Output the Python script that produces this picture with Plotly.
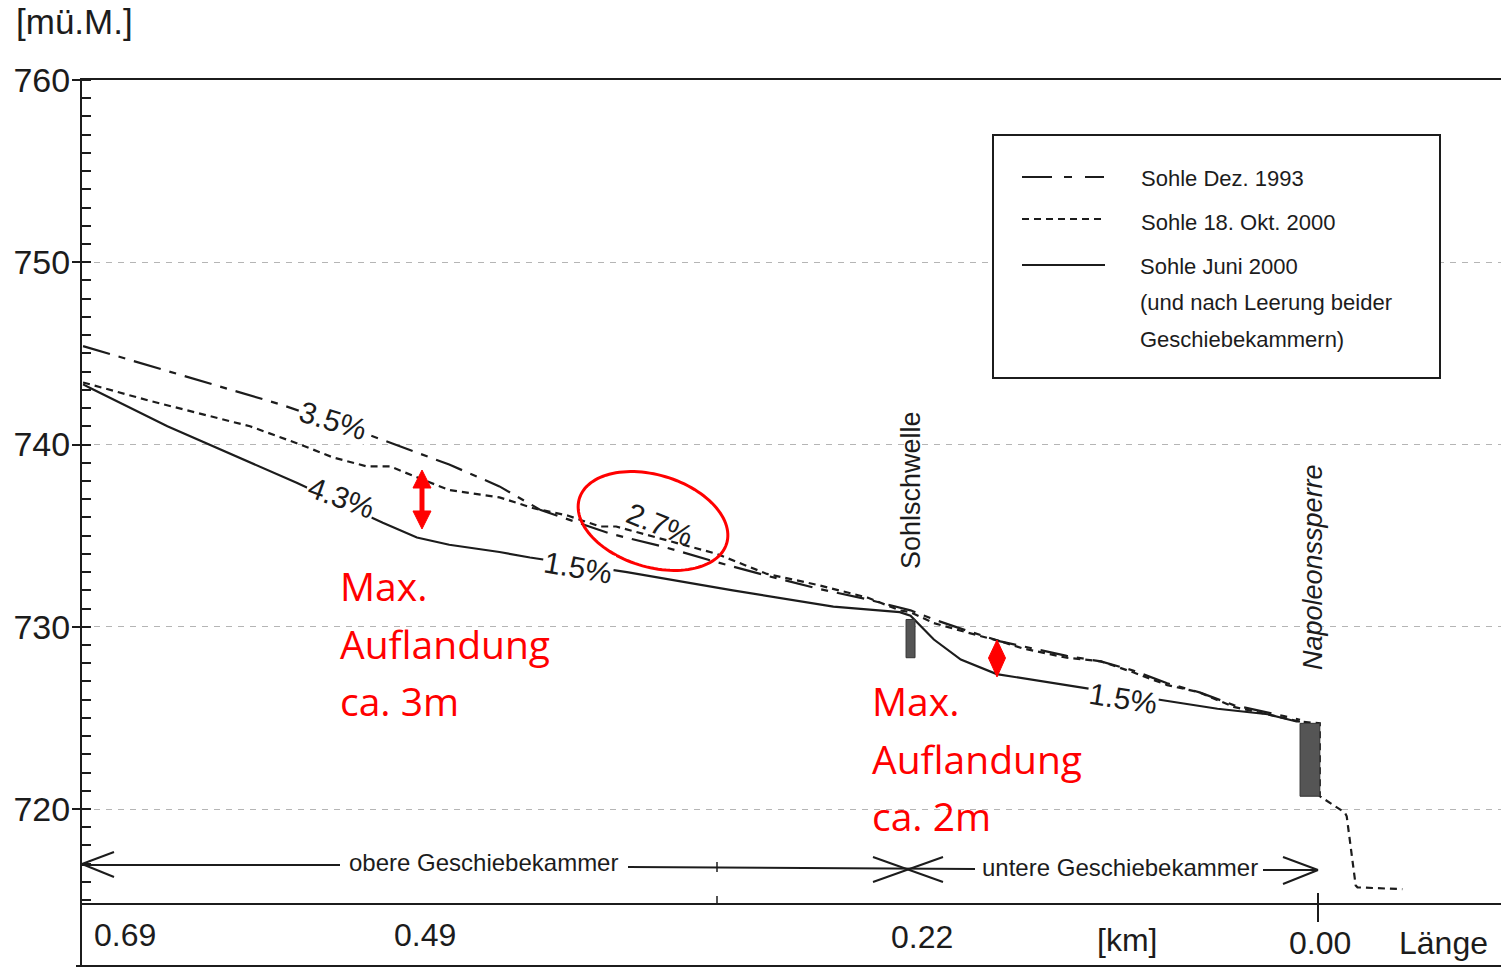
import numpy as np
import plotly.graph_objects as go

# ---- Längenprofil: Stationierung [km] und Sohlhöhen [m ü.M.] ----
dez1993_km = [0.688, 0.578, 0.528, 0.484, 0.456, 0.433, 0.394, 0.365, 0.337, 0.307,
              0.279, 0.251, 0.227, 0.214, 0.196, 0.177, 0.140, 0.121, 0.103, 0.084,
              0.066, 0.047, 0.019, 0.010]
dez1993_z = [745.4, 742.2, 740.5, 738.9, 737.7, 736.4, 735.1, 734.4, 733.6, 732.8,
             732.1, 731.5, 730.9, 730.4, 729.8, 729.2, 728.4, 728.1, 727.6, 726.9,
             726.4, 725.7, 725.1, 724.9]

okt2000_km = [0.688, 0.684, 0.651, 0.623, 0.595, 0.567, 0.549, 0.530, 0.517, 0.502,
              0.484, 0.456, 0.437, 0.418, 0.400, 0.391, 0.335, 0.307, 0.279, 0.251,
              0.233, 0.227, 0.214, 0.196, 0.177, 0.164, 0.140, 0.121, 0.103, 0.084,
              0.066, 0.047, 0.019, 0.010, -0.001, -0.001, -0.015, -0.016, -0.021,
              -0.022, -0.047]
okt2000_z = [743.4, 743.3, 742.4, 741.7, 741.0, 740.0, 739.3, 738.8, 738.8, 738.2,
             737.5, 737.1, 736.5, 736.1, 735.5, 735.5, 734.0, 732.9, 732.3, 731.6,
             730.9, 730.8, 730.2, 729.7, 729.2, 728.8, 728.3, 728.1, 727.5, 726.8,
             726.4, 725.6, 725.0, 724.8, 724.7, 720.7, 719.8, 719.6, 715.8,
             715.7, 715.6]

juni2000_km = [0.688, 0.684, 0.641, 0.569, 0.521, 0.502, 0.484, 0.456, 0.439, 0.385,
               0.326, 0.270, 0.233, 0.227, 0.214, 0.199, 0.179, 0.159, 0.134, 0.082,
               0.056, 0.028, 0.012, 0.010]
juni2000_z = [743.3, 743.1, 741.0, 737.9, 735.7, 734.9, 734.5, 734.1, 733.8, 733.0,
              732.0, 731.1, 730.8, 730.6, 729.3, 728.2, 727.4, 727.1, 726.7, 725.9,
              725.5, 725.2, 724.8, 724.8]

# Bauwerke (Sohlschwelle, Napoleonssperre)
bauwerk_km_links = [0.2295, 0.0100]
bauwerk_km_rechts = [0.2245, -0.0010]
bauwerk_oben = [730.4, 724.7]
bauwerk_unten = [728.3, 720.7]

y_ticks = [720, 730, 740, 750, 760]
x_tick_labels = ["0.69", "0.49", "0.22", "0.00"]
x_tick_vals = [0.69, 0.49, 0.22, 0.00]

# ---- Seitenaufbau ----
W, H = 1501, 970
ML, MR, MT, MB = 82, 0, 80, 67
PW, PH = W - ML - MR, H - MT - MB


def px(x):
    return (x - ML) / PW


def py(y):
    return (H - MB - y) / PH


INK = "#1c1c1c"
RED = "#ff0000"
FONT = "Liberation Sans, Arial, sans-serif"

fig = go.Figure()

fig.add_trace(go.Scatter(x=dez1993_km, y=dez1993_z, mode="lines",
                         line=dict(color=INK, width=2.2, dash="28px,9px,7px,9px"),
                         name="Sohle Dez. 1993", hoverinfo="skip"))
fig.add_trace(go.Scatter(x=okt2000_km, y=okt2000_z, mode="lines",
                         line=dict(color=INK, width=2.2, dash="7px,5px"),
                         name="Sohle 18. Okt. 2000", hoverinfo="skip"))
fig.add_trace(go.Scatter(x=juni2000_km, y=juni2000_z, mode="lines",
                         line=dict(color=INK, width=2.2),
                         name="Sohle Juni 2000", hoverinfo="skip"))

for xl, xr, zt, zb in zip(bauwerk_km_links, bauwerk_km_rechts, bauwerk_oben, bauwerk_unten):
    fig.add_trace(go.Scatter(x=[xl, xr, xr, xl, xl], y=[zb, zb, zt, zt, zb],
                             mode="lines", fill="toself", fillcolor="#555555",
                             line=dict(color="#333333", width=1), hoverinfo="skip"))

shapes = []


def seg(x0, y0, x1, y1, width=2, color=INK, dash="solid"):
    shapes.append(dict(type="line", xref="paper", yref="paper",
                       x0=px(x0), y0=py(y0), x1=px(x1), y1=py(y1),
                       line=dict(color=color, width=width, dash=dash)))


def poly(pts, fill=None, color=RED, width=3):
    d = "M " + " L ".join(f"{px(a):.5f},{py(b):.5f}" for a, b in pts) + " Z"
    shapes.append(dict(type="path", xref="paper", yref="paper", path=d,
                       fillcolor=fill if fill else "rgba(0,0,0,0)",
                       line=dict(color=color, width=width)))


# Rahmen unterhalb der Längenachse
seg(81, 903, 81, 966)
seg(76, 966, 1501, 966)
# Markierungen auf der Achse
shapes.append(dict(type="line", xref="x", yref="paper", x0=0.0, x1=0.0,
                   y0=py(922), y1=py(893), line=dict(color=INK, width=2)))
seg(717, 896, 717, 903, width=1.5)
seg(717, 862, 717, 872, width=1.5)

# Bereichspfeile der Geschiebekammern
seg(82, 865, 340, 865)
seg(82, 864, 114, 852)
seg(82, 864, 114, 877)
seg(628, 867, 975, 869)
seg(873, 857, 943, 882)
seg(873, 882, 943, 857)
seg(1263, 870, 1318, 870)
seg(1283, 857, 1318, 870)
seg(1283, 884, 1318, 870)

# Legende
shapes.append(dict(type="rect", xref="paper", yref="paper",
                   x0=px(993), x1=px(1440), y0=py(378), y1=py(135),
                   line=dict(color=INK, width=2), fillcolor="white"))
seg(1022, 177, 1052, 177)
seg(1064, 177, 1072, 177)
seg(1085, 177, 1104, 177)
seg(1022, 219, 1104, 219, dash="7px,5px")
seg(1022, 265, 1105, 265)

# Rote Hervorhebungen
t = np.linspace(0, 2 * np.pi, 120)
cx, cy, ea, eb, rot = 653, 521, 77, 46, np.radians(17)
ell = [(cx + ea * np.cos(a) * np.cos(rot) - eb * np.sin(a) * np.sin(rot),
        cy + ea * np.cos(a) * np.sin(rot) + eb * np.sin(a) * np.cos(rot)) for a in t]
poly(ell, width=3)
poly([(422, 470), (431, 488), (424, 488), (424, 511), (431, 511), (422, 529),
      (413, 511), (420, 511), (420, 488), (413, 488)], fill=RED, width=1)
poly([(997, 640), (1005.5, 658), (997, 677), (988.5, 658)], fill=RED, width=1)

annotations = []


def text(s, x, y, size, anchor="center", angle=0, color=INK, font=FONT,
         bg=None, style="normal"):
    a = dict(text=s, x=px(x), y=py(y), xref="paper", yref="paper",
             xanchor=anchor, yanchor="middle", showarrow=False,
             textangle=angle, font=dict(size=size, color=color, family=font, style=style))
    if bg:
        a.update(bgcolor=bg, borderpad=1)
    annotations.append(a)


text("[mü.M.]", 14, 22, 35, anchor="left")

# Beschriftung der Längenachse
x_label_px = [125, 425, 922, 1320]
x_label_py = [935, 935, 937, 943]
for lab, xp, yp in zip(x_tick_labels, x_label_px, x_label_py):
    text(lab, xp, yp, 32)
text("[km]", 1127, 940, 32)
text("Länge", 1443, 943, 32)

# Legendentexte
text("Sohle Dez. 1993", 1139, 178, 22, anchor="left")
text("Sohle 18. Okt. 2000", 1139, 222, 22, anchor="left")
text("Sohle Juni 2000", 1138, 266, 22, anchor="left")
text("(und nach Leerung beider", 1138, 303, 22, anchor="left")
text("Geschiebekammern)", 1138, 340, 22, anchor="left")

# Gefälle
text("3.5%", 333, 420, 30, angle=17, bg="white")
text("4.3%", 341, 498, 30, angle=20, bg="white")
text("1.5%", 578, 567, 30, angle=10, bg="white")
text("2.7%", 660, 524, 30, angle=22)
text("1.5%", 1123, 698, 30, angle=9, bg="white")

# Bauwerke
text("Sohlschwelle", 911, 490, 27, angle=-90)
text("Napoleonssperre", 1313, 567, 27, angle=-90, style="italic")

# Geschiebekammern
text("obere Geschiebekammer", 483, 862, 24)
text("untere Geschiebekammer", 1120, 867, 24)

# Anlandungen
RFONT = "Open Sans, Lato, sans-serif"
for s, yv in zip(["Max.", "Auflandung", "ca. 3m"], [585, 643, 700]):
    text(s, 338, yv, 39, anchor="left", color=RED, font=RFONT)
for s, yv in zip(["Max.", "Auflandung", "ca. 2m"], [700, 758, 815]):
    text(s, 870, yv, 39, anchor="left", color=RED, font=RFONT)

y_bottom = 760 - PH / 18.225
km_left = (1318 - ML) / 1795
km_right = (1318 - W) / 1795

fig.update_layout(
    width=W, height=H,
    margin=dict(l=ML, r=MR, t=MT, b=MB, pad=0),
    paper_bgcolor="white", plot_bgcolor="white",
    showlegend=False,
    shapes=shapes, annotations=annotations,
    xaxis=dict(range=[km_left, km_right], showgrid=False, zeroline=False,
               showticklabels=False, ticks="", showline=True, mirror=True,
               linecolor=INK, linewidth=2, fixedrange=True),
    yaxis=dict(range=[y_bottom, 760], tickvals=y_ticks, ticks="outside", ticklen=8,
               tickwidth=1.5, tickcolor=INK, ticklabelstandoff=-5,
               tickfont=dict(size=34, color=INK, family=FONT),
               showline=True, linecolor=INK, linewidth=2, zeroline=False,
               showgrid=True, gridcolor="#b5b5b5", gridwidth=1.2, griddash="6px,6px",
               minor=dict(dtick=1, ticks="inside", ticklen=9, tickwidth=1.5,
                          tickcolor=INK, showgrid=False),
               fixedrange=True),
)

fig.write_html("out.html", config={"displayModeBar": False})
